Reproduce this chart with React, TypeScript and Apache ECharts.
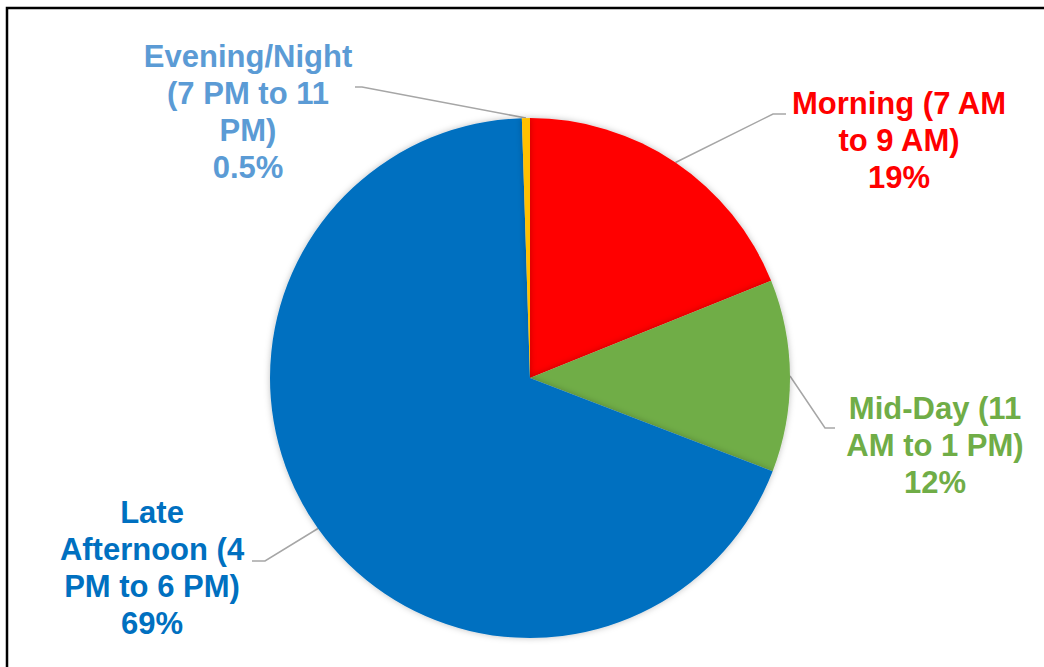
import React, { useEffect, useRef } from "react";
import * as echarts from "echarts";

const categories = [
  "Morning (7 AM to 9 AM)",
  "Mid-Day (11 AM to 1 PM)",
  "Late Afternoon (4 PM to 6 PM)",
  "Evening/Night (7 PM to 11 PM)",
];
const values = [19, 12, 69, 0.5];
const valueLabels = ["19%", "12%", "69%", "0.5%"];
const labelTexts = [
  ["Morning (7 AM", "to 9 AM)"],
  ["Mid-Day (11", "AM to 1 PM)"],
  ["Late", "Afternoon (4", "PM to 6 PM)"],
  ["Evening/Night", "(7 PM to 11", "PM)"],
];
const sliceColors = ["#FF0000", "#70AD47", "#0070C0", "#FFC000"];
const labelColors = ["#FF0000", "#70AD47", "#0070C0", "#5B9BD5"];

// label layout (positions only)
const labelPos = [
  { x: 899, y: 140, elbow: [773, 114], end: [786, 114] },
  { x: 935, y: 445, elbow: [825, 428], end: [835, 428] },
  { x: 152, y: 568, elbow: [265, 561], end: [252, 561] },
  { x: 248, y: 112, elbow: [362, 87], end: [355, 87] },
];

export default function App() {
  const ref = useRef<HTMLDivElement>(null);
  useEffect(() => {
    if (!ref.current) return;
    const chart = echarts.init(ref.current, undefined, { renderer: "svg" });
    const data = categories.map((name, i) => ({
      name,
      value: values[i],
      itemStyle: { color: sliceColors[i] },
      label: {
        color: labelColors[i],
        formatter: [...labelTexts[i], valueLabels[i]].join("\n"),
      },
    }));
    chart.setOption({
      animation: false,
      backgroundColor: "#FFFFFF",
      graphic: [
        {
          type: "rect",
          shape: { x: 7, y: 8, width: 1200, height: 800 },
          style: { fill: "none", stroke: "#000000", lineWidth: 2.5 },
          silent: true,
        },
      ],
      series: [
        {
          type: "pie",
          center: [530, 378],
          radius: 260,
          startAngle: 90,
          clockwise: true,
          avoidLabelOverlap: false,
          itemStyle: {
            shadowBlur: 6,
            shadowColor: "rgba(0,0,0,0.25)",
          },
          label: {
            show: true,
            position: "outside",
            fontFamily: "Liberation Sans, Arial, sans-serif",
            fontWeight: "bold",
            fontSize: 31,
            lineHeight: 37,
            align: "center",
          },
          labelLine: {
            show: true,
            length: 10,
            length2: 10,
            smooth: false,
            lineStyle: { color: "#A6A6A6", width: 1.5 },
          },
          labelLayout: (params: any) => {
            const p = labelPos[params.dataIndex];
            const start =
              params.labelLinePoints && params.labelLinePoints[0]
                ? params.labelLinePoints[0]
                : p.elbow;
            return {
              x: p.x,
              y: p.y,
              align: "center",
              verticalAlign: "middle",
              labelLinePoints: [start, p.elbow, p.end],
            };
          },
          emphasis: { disabled: true },
          data,
        },
      ],
    });
    return () => chart.dispose();
  }, []);
  return (
    <div
      ref={ref}
      style={{ position: "fixed", left: 0, top: 0, width: 1044, height: 667 }}
    />
  );
}
